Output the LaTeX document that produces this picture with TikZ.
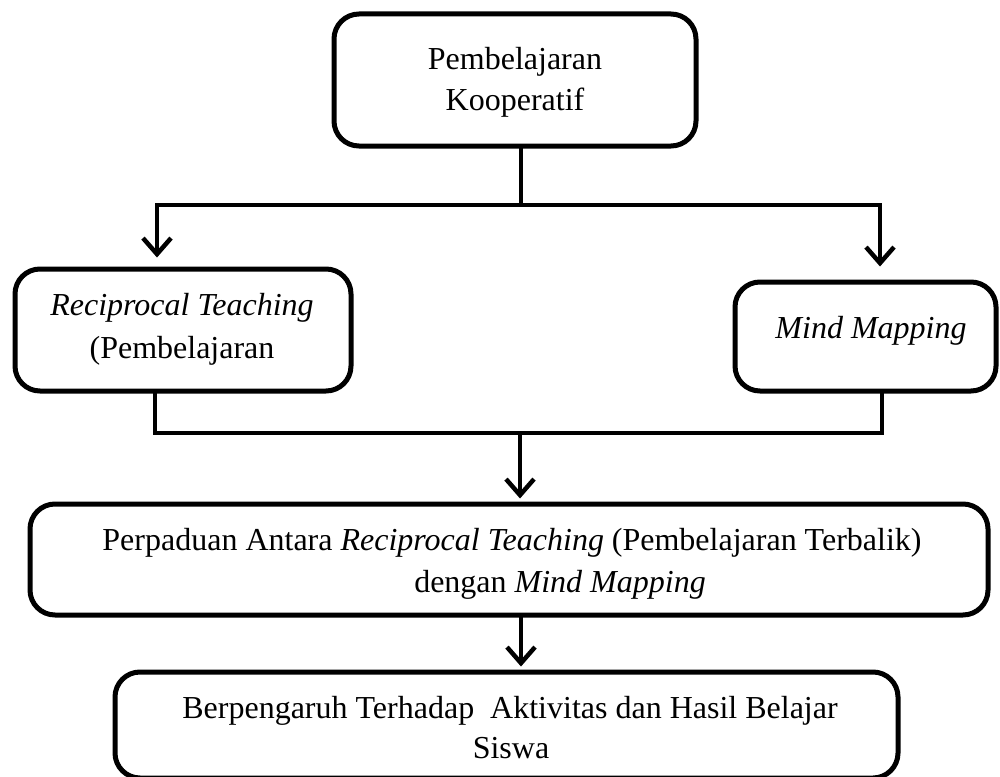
\documentclass[tikz,border=0pt]{standalone}
\usepackage{fontspec}
\setmainfont{Liberation Serif}
\usetikzlibrary{arrows.meta}
\begin{document}
\begin{tikzpicture}[x=1pt,y=-1pt,
  box/.style={draw=black,line width=5pt,rounded corners=25pt,inner sep=0pt,minimum width=#1},
  lbl/.style={anchor=base,inner sep=0pt,font=\fontsize{32}{35}\selectfont},
  conn/.style={line width=4pt,line cap=rect},
  arr/.style={line width=4pt,-{Straight Barb[length=16pt,width=28pt,line width=4.5pt]}},
]
\clip (0,0) rectangle (1000,776);
\fill[white] (0,0) rectangle (1000,776);
% boxes
\node[box=362pt,minimum height=132pt] (top) at (515,80) {};
\node[box=336pt,minimum height=122pt] (left) at (183,330) {};
\node[box=261pt,minimum height=109pt] (right) at (865.5,336.5) {};
\node[box=958pt,minimum height=111pt] (mid) at (509,559.5) {};
\node[box=783pt,minimum height=106pt] (bot) at (506.5,725) {};
% texts
\node[lbl] (t1) at (515,70) {Pembelajaran};
\node[lbl] (t2) at (515,110) {Kooperatif};
\node[lbl] (l1) at (182,315) {\textit{Reciprocal Teaching}};
\node[lbl] (l2) at (182,358) {(Pembelajaran};
\node[lbl] (r1) at (871,338) {\textit{Mind Mapping}};
\node[lbl] (m1) at (512,550) {Perpaduan Antara \textit{Reciprocal Teaching} (Pembelajaran Terbalik)};
\node[lbl] (m2) at (560,592) {dengan \textit{Mind Mapping}};
\node[lbl] (b1) at (510,718) {Berpengaruh Terhadap\ \ Aktivitas dan Hasil Belajar};
\node[lbl] (b2) at (511,758) {Siswa};
% junction coordinates
\coordinate (j0) at (521,205);
\coordinate (jl) at (157,205);
\coordinate (jr) at (880,205);
\coordinate (kl) at (155,433);
\coordinate (kr) at (882,433);
\coordinate (k0) at (520,433);
\coordinate (m0) at (521,617);
% connectors
\draw[conn] (top.south -| j0) -- (j0);
\draw[conn] (jl) -- (jr);
\draw[arr] (jl) -- ([yshift=9pt]jl |- left.north);
\draw[arr] (jr) -- ([yshift=13pt]jr |- right.north);
\draw[conn] (left.south -| kl) -- (kl);
\draw[conn] (right.south -| kr) -- (kr);
\draw[conn] (kl) -- (kr);
\draw[arr] (k0) -- ([yshift=3pt]k0 |- mid.north);
\draw[arr] (m0) -- ([yshift=3pt]m0 |- bot.north);
\end{tikzpicture}
\end{document}
